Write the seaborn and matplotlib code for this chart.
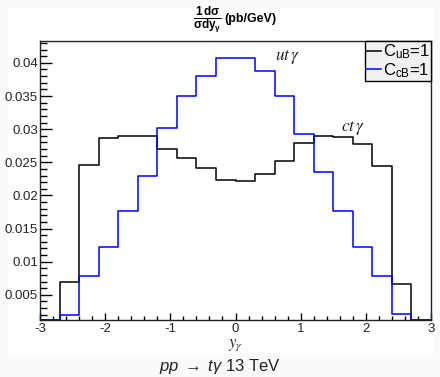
import numpy as np
import pandas as pd
import matplotlib
matplotlib.use("Agg")
import matplotlib.pyplot as plt
import seaborn as sns
from matplotlib.lines import Line2D
from matplotlib.patches import Rectangle
from matplotlib.ticker import MultipleLocator

# ---- data ----
bin_edges = [-3.0, -2.7, -2.4, -2.1, -1.8, -1.5, -1.2, -0.9, -0.6, -0.3, 0.0,
             0.3, 0.6, 0.9, 1.2, 1.5, 1.8, 2.1, 2.4, 2.7, 3.0]
c_uB = [0.0, 0.0069, 0.0246, 0.0287, 0.0290, 0.0289, 0.0270, 0.0257, 0.0242, 0.0223,
        0.0222, 0.0232, 0.0252, 0.0279, 0.0290, 0.0288, 0.0278, 0.0245, 0.0067, 0.0]
c_cB = [0.0, 0.0020, 0.0078, 0.0122, 0.0176, 0.0230, 0.0302, 0.0350, 0.0380, 0.0408,
        0.0408, 0.0388, 0.0350, 0.0292, 0.0235, 0.0177, 0.0122, 0.0078, 0.0021, 0.0]
series_labels = [r"C$_{\rm uB}$=1", r"C$_{\rm cB}$=1"]
x_ticks = [-3, -2, -1, 0, 1, 2, 3]
y_ticks = [0.005, 0.01, 0.015, 0.02, 0.025, 0.03, 0.035, 0.04]
y_tick_labels = ["0.005", "0.01", "0.015", "0.02", "0.025", "0.03", "0.035", "0.04"]

# ---- style ----
plt.rcParams["font.family"] = ["Liberation Sans", "DejaVu Sans"]
plt.rcParams["mathtext.fontset"] = "custom"
plt.rcParams["mathtext.rm"] = "Liberation Sans"
plt.rcParams["mathtext.it"] = "Liberation Sans:italic"
plt.rcParams["mathtext.bf"] = "Liberation Sans:bold"

YMIN, YMAX = 0.0012, 0.0433
edges = np.array(bin_edges)
centers = (edges[:-1] + edges[1:]) / 2

fig = plt.figure(figsize=(4.4, 3.77), dpi=100, facecolor="#fafafa")
bg = Rectangle((8 / 440, 1 - 353 / 377), 427 / 440, 345 / 377,
               transform=fig.transFigure, facecolor="white",
               edgecolor="none", zorder=-10)
fig.patches.append(bg)
ax = fig.add_axes([40 / 440, 1 - 320 / 377, 391 / 440, 279 / 377])
ax.set_zorder(1)
ax.set_facecolor("white")

df = pd.DataFrame({
    "y": np.concatenate([centers, centers]),
    "w": np.concatenate([np.clip(c_uB, YMIN + 0.00003, None), np.clip(c_cB, YMIN + 0.00003, None)]),
    "series": [series_labels[0]] * len(centers) + [series_labels[1]] * len(centers),
})
colors = ["black", "#0000ff"]
for lab, col in zip(series_labels, colors):
    sub = df[df["series"] == lab]
    sns.histplot(data=sub, x="y", weights="w", bins=list(bin_edges), element="step",
                 fill=False, color=col, linewidth=1.1, ax=ax)

ax.set_xlim(-3, 3)
ax.set_ylim(YMIN, YMAX)
ax.set_xticks(x_ticks)
ax.set_xticklabels([str(t) for t in x_ticks])
ax.set_yticks(y_ticks)
ax.set_yticklabels(y_tick_labels)
ax.xaxis.set_minor_locator(MultipleLocator(0.2))
ax.yaxis.set_minor_locator(MultipleLocator(0.001))
ax.tick_params(axis="x", which="major", direction="in", length=5, width=1, labelsize=9.5, pad=2,
               labelcolor="#222222")
ax.tick_params(axis="x", which="minor", direction="in", length=3, width=1)
ax.tick_params(axis="y", which="major", direction="in", length=8.5, width=1, labelsize=9.5, pad=1.5,
               labelcolor="#222222")
ax.tick_params(axis="y", which="minor", direction="in", length=5, width=1)
for s in ax.spines.values():
    s.set_linewidth(1.0)
    s.set_color("#222222")
ax.set_xlabel("")
ax.set_ylabel("")

# legend
handles = [Line2D([0], [0], color=c, lw=1.1) for c in colors]
leg = ax.legend(handles, series_labels, loc="upper right", bbox_to_anchor=(1.0, 1.0),
                fontsize=12, frameon=True, fancybox=False, handlelength=0.9,
                handletextpad=0.1, borderpad=0.08, labelspacing=0.0,
                borderaxespad=0.0)
leg.get_frame().set_facecolor("#f0f0f0")
leg.get_frame().set_edgecolor("black")
leg.get_frame().set_linewidth(1.0)
leg.get_frame().set_alpha(1)

# annotations
ax.text(288 / 440, 1 - 57 / 377, r"$ut\,\gamma$", transform=fig.transFigure,
        ha="center", va="center", fontsize=12.5, math_fontfamily="stix", color="#222222")
ax.text(353 / 440, 1 - 128 / 377, r"$ct\,\gamma$", transform=fig.transFigure,
        ha="center", va="center", fontsize=12.5, math_fontfamily="stix", color="#222222")

# top y-axis title
fig.text(222 / 440, 1 - 20 / 377, r"$\mathbf{\dfrac{1\,d\sigma}{\sigma dy_{\gamma}}}$",
         ha="right", va="center", fontsize=8.5)
fig.text(224 / 440, 1 - 19 / 377, "(pb/GeV)", ha="left", va="center",
         fontsize=9, fontweight="bold")
# x-axis label
fig.text(235 / 440, 1 - 345 / 377, r"$y_{\gamma}$", ha="center", va="center",
         fontsize=12, math_fontfamily="stix", color="#222222")
# bottom caption
fig.text(220 / 440, 1 - 367 / 377, r"$pp\;\rightarrow\;t\gamma$ 13 TeV", ha="center",
         va="center", fontsize=12, color="#222222")

fig.savefig("out.png", dpi=100, facecolor=fig.get_facecolor())
